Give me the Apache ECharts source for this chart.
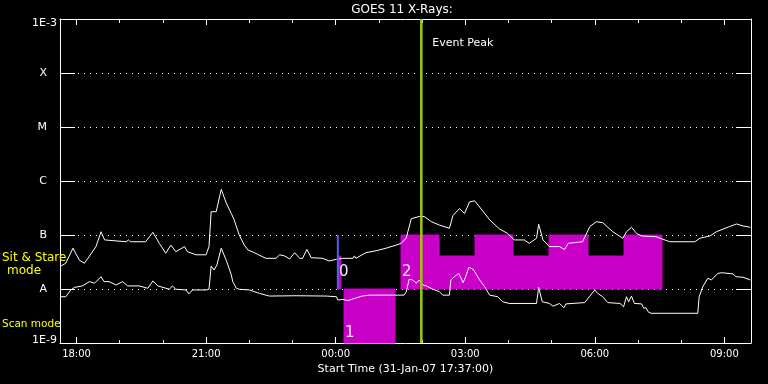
<!DOCTYPE html>
<html><head><meta charset="utf-8">
<script src="https://cdn.jsdelivr.net/npm/echarts@6/dist/echarts.min.js"></script>
<style>html,body{margin:0;padding:0;background:#000;}#c{width:768px;height:384px;}</style>
</head><body><div id="c"></div>
<script>
// ---- data ----
const startTime = '17:37';
const endTime = '09:37';
const upperTimes = ['17:37','17:45','17:55','18:04','18:11','18:27','18:34','18:39','19:09','19:12','19:15','19:36','19:37','19:46','19:55','20:04','20:11','20:18','20:30','20:34','20:46','21:00','21:04','21:07','21:14','21:21','21:28','21:35','21:39','21:46','21:53','21:58','22:07','22:23','22:37','22:42','22:49','22:56','23:03','23:10','23:14','23:20','23:26','23:42','23:51','00:01','00:10','00:24','00:26','00:28','00:42','00:56','01:10','01:24','01:31','01:38','01:45','01:56','02:03','02:13','02:24','02:38','02:43','02:52','02:59','03:06','03:13','03:20','03:34','03:48','03:59','04:08','04:22','04:29','04:39','04:42','04:48','04:57','05:11','05:18','05:23','05:43','05:53','06:02','06:11','06:25','06:39','06:44','06:51','06:58','07:05','07:25','07:44','08:19','08:26','08:40','08:49','09:07','09:17','09:26','09:36'];
const upperFlux = [2.6e-8,3.0e-8,5.7e-8,3.4e-8,3.0e-8,6.1e-8,1.15e-7,8.1e-8,7.5e-8,8.1e-8,7.5e-8,7.5e-8,7.0e-8,1.12e-7,7.0e-8,4.6e-8,6.5e-8,4.9e-8,6.1e-8,4.9e-8,4.3e-8,4.3e-8,6.1e-8,2.7e-7,2.7e-7,7.0e-7,3.9e-7,2.5e-7,1.9e-7,1.0e-7,6.5e-8,5.3e-8,4.7e-8,3.7e-8,3.7e-8,4.3e-8,4.1e-8,3.6e-8,4.7e-8,3.7e-8,3.7e-8,5.4e-8,3.8e-8,3.7e-8,3.3e-8,3.55e-8,3.7e-8,3.7e-8,4.1e-8,3.7e-8,4.7e-8,5.1e-8,5.7e-8,6.5e-8,7.0e-8,8.8e-8,2.0e-7,2.2e-7,2.2e-7,1.76e-7,1.53e-7,1.33e-7,2.3e-7,3.1e-7,2.5e-7,4.1e-7,4.3e-7,3.3e-7,1.9e-7,1.28e-7,1.07e-7,8.1e-8,8.1e-8,7.0e-8,8.7e-8,1.58e-7,8.1e-8,6.1e-8,6.1e-8,5.4e-8,7.0e-8,7.5e-8,1.43e-7,1.76e-7,1.69e-7,1.15e-7,8.7e-8,1.15e-7,1.39e-7,1.07e-7,9.6e-8,9.3e-8,7.5e-8,7.5e-8,8.7e-8,9.6e-8,1.15e-7,1.43e-7,1.6e-7,1.47e-7,1.39e-7];
const lowerTimes = ['17:37','17:45','17:52','17:57','18:08','18:18','18:25','18:34','18:38','18:45','18:55','19:04','19:11','19:27','19:39','19:46','19:53','20:09','20:13','20:18','20:32','20:36','20:41','21:00','21:04','21:07','21:11','21:15','21:21','21:28','21:35','21:37','21:42','21:46','22:00','22:14','22:28','23:05','23:47','00:01','00:03','00:10','00:17','00:26','00:37','00:47','01:35','01:38','01:42','01:47','01:52','01:56','02:01','02:06','02:15','02:24','02:29','02:38','02:40','02:45','02:51','02:57','03:00','03:05','03:11','03:20','03:27','03:34','03:45','03:52','04:01','04:39','04:42','04:47','04:57','05:02','05:11','05:17','05:20','05:46','05:53','06:00','06:04','06:11','06:18','06:35','06:40','06:44','06:47','06:51','06:55','07:05','07:08','07:11','07:14','07:18','08:23','08:25','08:30','08:37','08:42','08:51','08:57','09:12','09:16','09:26','09:36'];
const lowerFlux = [7.2e-9,7.2e-9,9.6e-9,1.07e-8,1.14e-8,1.37e-8,1.28e-8,1.69e-8,1.37e-8,1.37e-8,1.19e-8,1.37e-8,1.14e-8,1.14e-8,1.03e-8,1.41e-8,1.14e-8,9.9e-9,1.14e-8,9.9e-9,9.6e-9,8.1e-9,9.6e-9,9.6e-9,9.9e-9,2.67e-8,2.25e-8,2.78e-8,5.7e-8,3.4e-8,1.82e-8,1.37e-8,1.03e-8,9.9e-9,9.6e-9,8.3e-9,7.4e-9,7.5e-9,7.4e-9,7.2e-9,6.25e-9,6.4e-9,6.1e-9,6.7e-9,7.4e-9,7.7e-9,7.7e-9,8.8e-9,1.51e-8,1.47e-8,1.28e-8,1.47e-8,1.19e-8,1.14e-8,9.9e-9,8.9e-9,7.7e-9,7.7e-9,1.47e-8,1.69e-8,1.95e-8,1.31e-8,1.6e-8,2.52e-8,2.32e-8,1.47e-8,1.1e-8,7.7e-9,7.2e-9,5.8e-9,5.4e-9,5.4e-9,1.07e-8,5.8e-9,5.4e-9,4.8e-9,5.4e-9,4.5e-9,5.3e-9,5.6e-9,7.4e-9,9.6e-9,8.3e-9,7.2e-9,5.6e-9,5.4e-9,4.7e-9,7.2e-9,5.8e-9,7.4e-9,5.4e-9,5.3e-9,4.4e-9,4.5e-9,3.8e-9,3.55e-9,3.55e-9,7.2e-9,1.1e-8,1.58e-8,1.47e-8,1.95e-8,2.0e-8,1.9e-8,1.69e-8,1.65e-8,1.47e-8];
const levelValues = [1e-9,1e-8,1e-7,1e-6,1e-5,1e-4,1e-3];
const levelLabels = ['1E-9','A','B','C','M','X','1E-3'];
const majorTickTimes = ['18:00','21:00','00:00','03:00','06:00','09:00'];
const minorTickTimes = ['18:00','19:00','20:00','21:00','22:00','23:00','00:00','01:00','02:00','03:00','04:00','05:00','06:00','07:00','08:00','09:00'];
const blockStart = ['00:03','00:11','01:31','02:24','03:14','04:07','04:57','05:50','06:40'];
const blockEnd   = ['00:08','01:23','02:24','03:14','04:07','04:57','05:50','06:40','07:33'];
const blockLow   = [1e-8,1e-9,1e-8,1e-8,1e-8,1e-8,1e-8,1e-8,1e-8];
const blockHigh  = [4.1e-8,1e-8,1e-7,4.1e-8,1e-7,4.1e-8,1e-7,4.1e-8,1e-7];
const blockLabel = ['0','1','2','','','','','',''];
const blockMode  = ['sit','scan','sit','sit','sit','sit','sit','sit','sit'];
const pointingMarkTime = '00:03';
const eventPeakTime = '01:59';
const titleText = 'GOES 11 X-Rays:';
const xName = 'Start Time (31-Jan-07 17:37:00)';

// ---- helpers ----
function toMin(s){ const p = s.split(':').map(Number); let v = p[0]*60 + p[1]; if (p[0] < 12) v += 1440; return v; }
function fmt(v){ v = Math.round(v) % 1440; const h = Math.floor(v/60), m = v % 60; return String(h).padStart(2,'0') + ':' + String(m).padStart(2,'0'); }
const FONT = 'DejaVu Sans';
const MAGENTA = '#c800c8';
const xMin = toMin(startTime), xMax = toMin(endTime);
const majors = majorTickTimes.map(toMin), minors = minorTickTimes.map(toMin);
const sitLabelLevel = 2.07e-8, scanLabelLevel = 1.53e-9;

function xAx(pos, len, vals, extra){
  return Object.assign({
    type:'value', min:xMin, max:xMax, position:pos,
    axisLine:{show:true, lineStyle:{color:'#fff', width:1}},
    axisTick:{show:true, inside:true, length:len, customValues:vals, lineStyle:{color:'#fff', width:1}},
    axisLabel:{show:false},
    splitLine:{show:false}
  }, extra || {});
}

const chart = echarts.init(document.getElementById('c'), null, {renderer:'canvas'});
chart.setOption({
  backgroundColor:'#000',
  animation:false,
  title:{text:titleText, left:402, top:4, padding:0, textAlign:'center',
         textStyle:{color:'#fff', fontFamily:FONT, fontSize:12, fontWeight:'normal'}},
  grid:{left:60, right:17, top:19, bottom:41, containLabel:false},
  xAxis:[
    xAx('bottom', 6, majors, {
      axisLabel:{show:true, customValues:majors, formatter:fmt, color:'#fff', fontFamily:FONT, fontSize:10, margin:6},
      name:xName, nameLocation:'middle', nameGap:19,
      nameTextStyle:{color:'#fff', fontFamily:FONT, fontSize:11}
    }),
    xAx('bottom', 3, minors, {axisLine:{show:false}}),
    xAx('top', 6, majors),
    xAx('top', 4, minors, {axisLine:{show:false}})
  ],
  yAxis:[
    {type:'log', logBase:10, min:1e-9, max:1e-3, interval:1, position:'left',
     axisLine:{show:true, lineStyle:{color:'#fff', width:1}},
     axisTick:{show:true, inside:true, length:15, lineStyle:{color:'#fff', width:1}},
     axisLabel:{show:true, color:'#fff', fontFamily:FONT, fontSize:11, margin:3,
       formatter:function(v){
         const e = Math.round(Math.log10(v));
         const i = levelValues.findIndex(x => Math.round(Math.log10(x)) === e);
         const t = i >= 0 ? levelLabels[i] : '';
         if (i === levelValues.length-1) return '{top|' + t + '}';
         if (i === 0) return '{bot|' + t + '}';
         return '{l|' + t + '}';
       },
       rich:{
         top:{color:'#fff', fontFamily:FONT, fontSize:11, padding:[8,0,0,0]},
         bot:{color:'#fff', fontFamily:FONT, fontSize:11, padding:[0,0,6,0]},
         l:{color:'#fff', fontFamily:FONT, fontSize:11, padding:[0,10,0,0]}
       }},
     splitLine:{show:true, lineStyle:{color:'#fff', width:1, type:[1,5]}}
    },
    {type:'log', logBase:10, min:1e-9, max:1e-3, interval:1, position:'right',
     axisLine:{show:true, lineStyle:{color:'#fff', width:1}},
     axisTick:{show:true, inside:true, length:15, lineStyle:{color:'#fff', width:1}},
     axisLabel:{show:false}, splitLine:{show:false}}
  ],
  graphic:[
    {type:'text', x:2, y:258, z:100, style:{text:'Sit & Stare', fill:'#ffff00', fontFamily:FONT, fontSize:12, textVerticalAlign:'middle', verticalAlign:'middle'}},
    {type:'text', x:24, y:271, z:100, style:{text:'mode', fill:'#ffff00', fontFamily:FONT, fontSize:12, textAlign:'center', align:'center', textVerticalAlign:'middle', verticalAlign:'middle'}},
    {type:'text', x:2, y:324, z:100, style:{text:'Scan mode', fill:'#ffff00', fontFamily:FONT, fontSize:10.5, textVerticalAlign:'middle', verticalAlign:'middle'}}
  ],
  series:[
    {type:'custom', name:'Pointings', z:1, xAxisIndex:0, yAxisIndex:0,
     data: blockStart.map((s,i)=>[toMin(s), toMin(blockEnd[i]), blockLow[i], blockHigh[i], i]),
     encode:{x:[0,1], y:[2,3]},
     renderItem:function(params, api){
       const i = api.value(4);
       const p1 = api.coord([api.value(0), api.value(3)]);
       const p2 = api.coord([api.value(1), api.value(2)]);
       const x1 = Math.round(p1[0]), x2 = Math.round(p2[0]), y1 = Math.round(p1[1]), y2 = Math.round(p2[1]);
       const children = [{type:'rect', shape:{x:x1, y:y1, width:x2-x1, height:y2-y1},
         style:{fill:MAGENTA, stroke:MAGENTA, lineWidth:1}}];
       const lab = blockLabel[i];
       if (lab) {
         const ly = api.coord([api.value(0), blockMode[i]==='scan' ? scanLabelLevel : sitLabelLevel])[1];
         children.push({type:'text', style:{text:lab, x:x1+1, y:ly, fill:'#ffe6ff', fontFamily:FONT, fontSize:15,
           textAlign:'left', align:'left', textVerticalAlign:'middle', verticalAlign:'middle'}});
       }
       return {type:'group', children:children};
     }},
    {type:'line', name:'Long', z:3, showSymbol:false, symbol:'none', xAxisIndex:0, yAxisIndex:0,
     lineStyle:{color:'#fff', width:1}, data: upperTimes.map((t,i)=>[toMin(t), upperFlux[i]])},
    {type:'line', name:'Short', z:3, showSymbol:false, symbol:'none', xAxisIndex:0, yAxisIndex:0,
     lineStyle:{color:'#fff', width:1}, data: lowerTimes.map((t,i)=>[toMin(t), lowerFlux[i]])},
    {type:'line', name:'Pointing start', z:4, showSymbol:false, symbol:'none', xAxisIndex:0, yAxisIndex:0,
     lineStyle:{color:'#5a5af5', width:2}, data:[[toMin(pointingMarkTime), 1e-8],[toMin(pointingMarkTime), 1e-7]]},
    {type:'custom', name:'Event Peak', z:5, xAxisIndex:0, yAxisIndex:0,
     data:[[toMin(eventPeakTime), 1e-3]], encode:{x:0, y:1},
     renderItem:function(params, api){
       const t = api.value(0);
       const a = api.coord([t, 1e-3]), b = api.coord([t, 1e-9]);
       return {type:'group', children:[
         {type:'line', shape:{x1:a[0], y1:a[1], x2:b[0], y2:b[1]}, style:{stroke:'#9ccc00', lineWidth:2.5}},
         {type:'text', style:{text:'Event Peak', x:a[0]+11, y:a[1]+24, fill:'#fff', fontFamily:FONT, fontSize:11,
           textVerticalAlign:'middle', verticalAlign:'middle'}}
       ]};
     }}
  ]
});
</script></body></html>
